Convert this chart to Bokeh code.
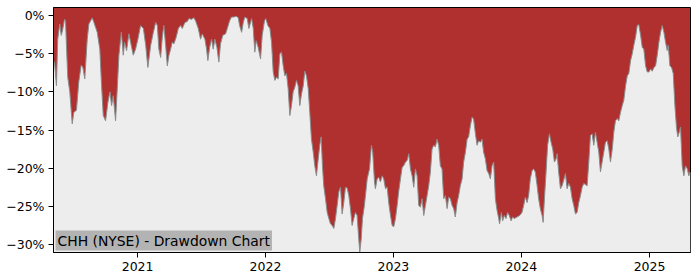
import pandas as pd
from bokeh.plotting import figure
from bokeh.models import (ColumnDataSource, FixedTicker, CustomJSTickFormatter,
                          DatetimeTickFormatter, Range1d, Label)
from bokeh.embed import file_html
from bokeh.resources import INLINE

chart_title = "CHH (NYSE) - Drawdown Chart"

# time as decimal year, drawdown in percent
year_fraction = [
    2020.344, 2020.352, 2020.367, 2020.377, 2020.393, 2020.404, 2020.414, 2020.430, 2020.438, 2020.445,
    2020.455, 2020.471, 2020.490, 2020.502, 2020.523, 2020.541, 2020.560, 2020.573, 2020.588, 2020.607,
    2020.620, 2020.633, 2020.646, 2020.659, 2020.685, 2020.705, 2020.719, 2020.732, 2020.750, 2020.768,
    2020.784, 2020.797, 2020.810, 2020.828, 2020.841, 2020.854, 2020.873, 2020.888, 2020.898, 2020.914,
    2020.932, 2020.945, 2020.966, 2020.984, 2021.002, 2021.023, 2021.045, 2021.063, 2021.080, 2021.102,
    2021.123, 2021.141, 2021.154, 2021.166, 2021.180, 2021.193, 2021.205, 2021.219, 2021.232, 2021.245,
    2021.258, 2021.271, 2021.284, 2021.302, 2021.318, 2021.336, 2021.349, 2021.370, 2021.388, 2021.401,
    2021.422, 2021.440, 2021.453, 2021.474, 2021.492, 2021.505, 2021.526, 2021.539, 2021.549, 2021.563,
    2021.578, 2021.591, 2021.604, 2021.620, 2021.635, 2021.648, 2021.666, 2021.688, 2021.701, 2021.719,
    2021.734, 2021.752, 2021.771, 2021.787, 2021.797, 2021.813, 2021.826, 2021.838, 2021.857, 2021.870,
    2021.891, 2021.904, 2021.916, 2021.927, 2021.943, 2021.961, 2021.974, 2021.992, 2022.002, 2022.018,
    2022.034, 2022.047, 2022.060, 2022.073, 2022.086, 2022.099, 2022.112, 2022.125, 2022.138, 2022.151,
    2022.164, 2022.177, 2022.190, 2022.203, 2022.216, 2022.229, 2022.242, 2022.255, 2022.268, 2022.281,
    2022.295, 2022.307, 2022.320, 2022.334, 2022.346, 2022.359, 2022.373, 2022.385, 2022.398, 2022.412,
    2022.424, 2022.435, 2022.445, 2022.455, 2022.469, 2022.482, 2022.495, 2022.508, 2022.521, 2022.534,
    2022.547, 2022.560, 2022.573, 2022.586, 2022.599, 2022.612, 2022.625, 2022.638, 2022.651, 2022.664,
    2022.677, 2022.690, 2022.703, 2022.716, 2022.729, 2022.737, 2022.748, 2022.758, 2022.773, 2022.795,
    2022.813, 2022.828, 2022.838, 2022.852, 2022.859, 2022.873, 2022.885, 2022.898, 2022.912, 2022.924,
    2022.938, 2022.951, 2022.963, 2022.977, 2022.990, 2023.002, 2023.016, 2023.029, 2023.041, 2023.055,
    2023.068, 2023.080, 2023.094, 2023.107, 2023.120, 2023.133, 2023.146, 2023.159, 2023.172, 2023.185,
    2023.198, 2023.211, 2023.224, 2023.237, 2023.250, 2023.263, 2023.276, 2023.289, 2023.302, 2023.315,
    2023.328, 2023.341, 2023.354, 2023.367, 2023.380, 2023.393, 2023.406, 2023.420, 2023.432, 2023.445,
    2023.459, 2023.471, 2023.484, 2023.498, 2023.510, 2023.523, 2023.537, 2023.549, 2023.563, 2023.576,
    2023.588, 2023.602, 2023.615, 2023.627, 2023.641, 2023.654, 2023.666, 2023.680, 2023.693, 2023.705,
    2023.719, 2023.732, 2023.745, 2023.758, 2023.771, 2023.784, 2023.797, 2023.810, 2023.823, 2023.830,
    2023.844, 2023.854, 2023.867, 2023.880, 2023.893, 2023.906, 2023.920, 2023.932, 2023.945, 2023.966,
    2023.987, 2024.005, 2024.018, 2024.031, 2024.045, 2024.057, 2024.070, 2024.084, 2024.096, 2024.109,
    2024.123, 2024.135, 2024.148, 2024.162, 2024.170, 2024.180, 2024.193, 2024.205, 2024.219, 2024.232,
    2024.245, 2024.258, 2024.271, 2024.279, 2024.291, 2024.305, 2024.318, 2024.330, 2024.344, 2024.357,
    2024.370, 2024.383, 2024.396, 2024.409, 2024.422, 2024.435, 2024.448, 2024.461, 2024.474, 2024.487,
    2024.513, 2024.526, 2024.539, 2024.552, 2024.565, 2024.578, 2024.591, 2024.604, 2024.617, 2024.630,
    2024.643, 2024.656, 2024.670, 2024.682, 2024.695, 2024.709, 2024.721, 2024.734, 2024.748, 2024.760,
    2024.773, 2024.787, 2024.799, 2024.813, 2024.826, 2024.838, 2024.852, 2024.865, 2024.877, 2024.891,
    2024.904, 2024.916, 2024.930, 2024.943, 2024.955, 2024.969, 2024.982, 2024.995, 2025.008, 2025.021,
    2025.034, 2025.047, 2025.060, 2025.073, 2025.086, 2025.099, 2025.112, 2025.125, 2025.138, 2025.146,
    2025.159, 2025.172, 2025.185, 2025.198, 2025.211, 2025.221, 2025.232, 2025.242, 2025.255, 2025.268,
    2025.281, 2025.295, 2025.307, 2025.315, 2025.320,
]

drawdown_pct = [
    -6.0, -6.1, -9.2, -3.1, -1.1, -2.6, -2.0, -0.5, -0.7, -3.9,
    -8.1, -10.0, -14.2, -12.7, -12.4, -8.7, -6.5, -6.8, -8.3, -3.1,
    -1.1, -0.7, -0.3, -0.9, -2.2, -4.4, -9.2, -13.1, -13.8, -11.4,
    -10.0, -11.8, -10.5, -13.8, -9.6, -5.2, -2.2, -5.2, -3.5, -4.6,
    -2.4, -3.5, -5.2, -4.4, -3.1, -1.3, -1.7, -3.9, -6.8, -3.9,
    -2.2, -0.9, -1.3, -4.4, -5.5, -2.8, -1.3, -3.9, -6.6, -5.2,
    -4.4, -3.5, -3.7, -2.8, -1.7, -1.3, -1.7, -0.9, -0.8, -0.4,
    -0.5, -0.3, -0.7, -1.7, -3.1, -2.4, -3.1, -4.4, -5.9, -4.2,
    -3.1, -4.4, -3.1, -4.2, -6.1, -3.7, -2.6, -2.4, -1.7, -0.7,
    -0.2, -0.2, -0.1, -0.3, -1.3, -2.2, -0.9, -0.2, -0.4, -1.7,
    -0.4, -1.7, -4.8, -3.3, -4.2, -5.7, -2.6, -0.7, -0.4, -1.3,
    -1.7, -3.5, -7.4, -8.5, -8.1, -8.3, -5.0, -4.8, -6.6, -7.9,
    -7.6, -9.6, -13.1, -11.8, -10.0, -9.4, -8.5, -9.2, -11.8, -10.3,
    -9.2, -7.3, -7.9, -9.6, -12.7, -16.2, -17.9, -19.7, -21.0, -18.8,
    -17.0, -15.9, -19.7, -22.3, -24.0, -25.8, -26.6, -27.3, -27.5, -27.9,
    -26.6, -24.9, -23.1, -22.5, -26.0, -24.5, -22.5, -22.6, -23.6, -25.3,
    -27.5, -26.6, -25.8, -26.2, -29.3, -31.0, -29.3, -26.6, -24.9, -21.4,
    -20.1, -17.0, -17.9, -21.8, -22.7, -21.4, -21.2, -21.8, -21.0, -21.4,
    -22.7, -22.5, -24.5, -26.2, -27.5, -27.7, -26.6, -24.9, -23.1, -21.4,
    -19.9, -19.7, -19.2, -19.0, -18.1, -20.1, -21.0, -22.5, -20.1, -21.0,
    -24.9, -25.1, -24.0, -26.2, -24.9, -23.6, -22.3, -20.5, -17.5, -17.0,
    -17.2, -16.2, -17.0, -19.7, -20.1, -24.0, -23.6, -25.3, -23.8, -24.0,
    -24.9, -25.3, -26.4, -24.5, -23.6, -22.3, -21.4, -19.2, -17.9, -16.2,
    -15.9, -14.4, -13.3, -13.6, -15.5, -17.0, -16.4, -16.6, -16.2, -17.9,
    -18.8, -20.3, -20.7, -21.4, -19.7, -19.2, -24.0, -25.5, -26.6, -27.3,
    -25.8, -26.9, -26.2, -26.6, -25.8, -26.2, -26.9, -26.4, -26.6, -26.4,
    -26.2, -25.8, -24.9, -23.8, -24.5, -23.6, -21.4, -20.3, -20.1, -20.5,
    -22.3, -24.0, -25.3, -26.2, -27.1, -24.0, -20.5, -17.0, -15.5, -16.6,
    -17.5, -19.2, -18.8, -18.1, -20.5, -22.7, -22.3, -21.6, -20.7, -22.7,
    -22.0, -22.5, -24.0, -24.9, -26.0, -25.8, -24.5, -23.6, -22.5, -22.0,
    -22.3, -19.2, -15.7, -15.5, -17.0, -15.3, -16.6, -17.9, -20.5, -19.2,
    -17.9, -16.6, -16.4, -17.5, -19.2, -17.5, -15.3, -13.8, -13.5, -13.8,
    -12.7, -11.8, -11.1, -9.2, -7.9, -7.6, -5.9, -5.0, -3.9, -2.8,
    -1.3, -1.2, -2.6, -4.2, -4.4, -6.6, -7.4, -7.4, -7.0, -7.3,
    -6.8, -6.6, -5.2, -3.5, -2.2, -1.3, -2.2, -3.5, -4.6, -3.9,
    -6.6, -6.8, -7.6, -11.8, -14.8, -15.9, -15.3, -14.6, -19.7, -21.0,
    -19.7, -20.1, -21.0, -20.5, -20.8,
]

x_tick_years = [2021, 2022, 2023, 2024, 2025]
y_ticks_pct = [0, -5, -10, -15, -20, -25, -30]


def to_timestamp(yf):
    y = int(yf)
    start = pd.Timestamp(y, 1, 1)
    end = pd.Timestamp(y + 1, 1, 1)
    return start + (end - start) * (yf - y)


dates = [to_timestamp(v) for v in year_fraction]
y_low, y_high = -31.05, 1.05

src = ColumnDataSource(data=dict(
    date=dates,
    dd=drawdown_pct,
    floor=[y_low] * len(dates),
))

RED = "#b03030"
GREY_BG = "#ededed"

p = figure(width=700, height=280, output_backend="svg", toolbar_location=None,
           x_axis_type="datetime",
           x_range=Range1d(dates[0], dates[-1]),
           y_range=Range1d(y_low, y_high),
           min_border_left=53, min_border_right=10,
           min_border_top=7, min_border_bottom=28)

p.background_fill_color = RED
p.border_fill_color = "white"
p.outline_line_color = "black"
p.outline_line_width = 1
p.xgrid.visible = False
p.ygrid.visible = False

p.varea(x="date", y1="floor", y2="dd", source=src, fill_color=GREY_BG)
p.line(x="date", y="dd", source=src, line_color="#8c8c8c", line_width=1)

# axes
year_ms = [pd.Timestamp(y, 1, 1).timestamp() * 1000 for y in x_tick_years]
p.xaxis.ticker = FixedTicker(ticks=year_ms)
p.xaxis.formatter = DatetimeTickFormatter(
    years="%Y", months="%Y", days="%Y", hours="%Y", minutes="%Y",
    seconds="%Y", milliseconds="%Y", microseconds="%Y", hourmin="%Y",
    minsec="%Y")
p.yaxis.ticker = FixedTicker(ticks=y_ticks_pct)
p.yaxis.formatter = CustomJSTickFormatter(
    code='return tick == 0 ? "0%" : "\\u2212" + Math.abs(tick) + "%";')

for ax in (p.xaxis, p.yaxis):
    ax.axis_line_color = "black"
    ax.major_tick_line_color = "black"
    ax.major_tick_out = 5
    ax.major_tick_in = 0
    ax.minor_tick_line_color = None
    ax.major_label_text_font = "DejaVu Sans"
    ax.major_label_text_font_size = "12.5px"
    ax.major_label_text_color = "black"
    ax.major_label_standoff = 4

title_label = Label(x=dates[0], y=y_low, text=chart_title,
                    text_align="left", text_baseline="bottom",
                    x_offset=2, y_offset=2,
                    text_font="DejaVu Sans", text_font_size="13.9px",
                    text_color="black",
                    background_fill_color="#b3b3b3", background_fill_alpha=1.0,
                    padding=2)
p.add_layout(title_label)

open("out.html", "w").write(file_html(p, INLINE))
